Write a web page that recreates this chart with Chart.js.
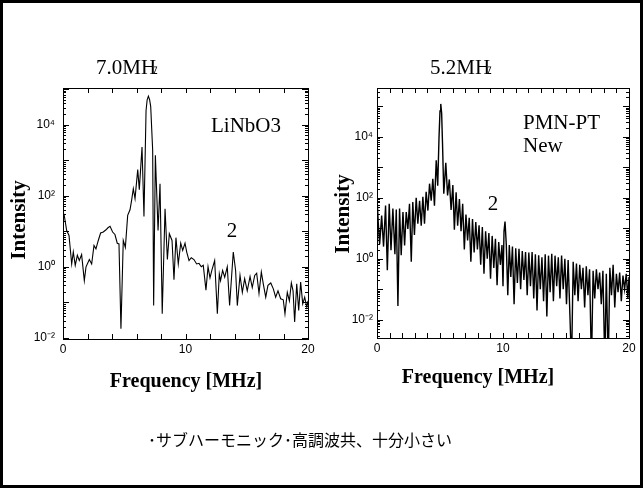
<!DOCTYPE html>
<html>
<head>
<meta charset="utf-8">
<script src="https://cdn.jsdelivr.net/npm/chart.js@4.4.1/dist/chart.umd.min.js"></script>
<style>
  html, body { margin: 0; padding: 0; background: #fff; }
  body { width: 643px; height: 488px; position: relative; overflow: hidden; }
  canvas { position: absolute; }
</style>
</head>
<body>
<canvas id="page" width="643" height="488" style="left:0;top:0"></canvas>
<canvas id="chart-linbo3" width="320" height="400" style="left:0;top:0"></canvas>
<canvas id="chart-pmnpt" width="323" height="400" style="left:320px;top:0"></canvas>

<script>
// LiNbO3, 7.0 MHz
var lnFreq = [
  0.08, 0.30, 0.49, 0.71, 0.84, 1.00, 1.17, 1.33, 1.52, 1.74,
  1.88, 2.15, 2.34, 2.53, 2.69, 2.88, 3.07, 3.29, 3.51, 3.67,
  3.84, 4.05, 4.24, 4.43, 4.57, 4.73, 4.92, 5.09, 5.28, 5.47,
  5.60, 5.74, 5.88, 6.10, 6.23, 6.45, 6.61, 6.78, 6.87, 6.97,
  7.07, 7.16, 7.32, 7.40, 7.54, 7.76, 7.92, 8.10, 8.33, 8.52,
  8.68, 8.90, 9.06, 9.22, 9.41, 9.61, 9.77, 9.96, 10.10, 10.29,
  10.47, 10.69, 10.91, 11.10, 11.29, 11.45, 11.67, 11.84, 12.00, 12.16,
  12.38, 12.60, 12.76, 12.86, 13.03, 13.20, 13.41, 13.60, 13.90, 14.09,
  14.23, 14.45, 14.64, 14.83, 15.04, 15.27, 15.45, 15.65, 15.81, 16.00,
  16.19, 16.35, 16.55, 16.73, 16.96, 17.17, 17.36, 17.55, 17.77, 17.98,
  18.12, 18.31, 18.48, 18.64, 18.78, 18.91, 19.08, 19.24, 19.40, 19.57,
  19.73, 19.90, 20.00
];
var lnInt = [
  31, 10.5, 7.6, 1.2, 2.6, 1.1, 2.1, 1.5, 2.2, 0.41,
  1.0, 1.6, 1.2, 4, 3.2, 5.5, 8.9, 9.5, 11, 12.5,
  13.7, 9.5, 8.1, 4.6, 4.4, 0.018, 5.5, 3.5, 28, 40,
  74, 158, 83, 540, 148, 2350, 26, 25000, 50000, 63000,
  50000, 32000, 1900, 0.081, 1380, 10.5, 218, 0.048, 43, 1.6,
  8.5, 5.5, 0.43, 6.6, 1.2, 4.6, 2.9, 4.6, 2.6, 1.5,
  1.8, 1.6, 1.2, 1.25, 1.0, 1.1, 0.22, 1.0, 0.49, 0.82,
  1.5, 0.048, 0.63, 0.41, 0.79, 0.51, 1.0, 0.081, 2.6, 0.79,
  0.081, 0.57, 0.19, 0.46, 0.21, 0.53, 0.26, 0.57, 0.66, 0.18,
  0.71, 0.33, 0.14, 0.3, 0.35, 0.24, 0.14, 0.21, 0.126, 0.118,
  0.048, 0.19, 0.11, 0.35, 0.21, 0.028, 0.33, 0.059, 0.37, 0.091,
  0.14, 0.073, 0.11
];

// PMN-PT New, 5.2 MHz
var pmnFreq = [
  0.00, 0.10, 0.21, 0.37, 0.52, 0.68, 0.82, 0.97, 1.11, 1.26,
  1.42, 1.53, 1.66, 1.79, 1.92, 2.06, 2.19, 2.32, 2.45, 2.58,
  2.72, 2.84, 2.97, 3.11, 3.24, 3.38, 3.51, 3.64, 3.77, 3.90,
  4.04, 4.17, 4.30, 4.43, 4.56, 4.70, 4.82, 4.92, 5.00, 5.06,
  5.13, 5.20, 5.30, 5.46, 5.60, 5.74, 5.88, 6.02, 6.14, 6.28,
  6.40, 6.54, 6.67, 6.80, 6.93, 7.06, 7.19, 7.32, 7.45, 7.58,
  7.71, 7.84, 7.97, 8.10, 8.23, 8.36, 8.49, 8.62, 8.75, 8.88,
  9.01, 9.14, 9.27, 9.40, 9.53, 9.66, 9.79, 9.92, 10.00, 10.08,
  10.16, 10.26, 10.38, 10.50, 10.62, 10.75, 10.88, 11.01, 11.14, 11.27,
  11.40, 11.53, 11.66, 11.79, 11.92, 12.05, 12.18, 12.31, 12.44, 12.57,
  12.70, 12.83, 12.96, 13.09, 13.22, 13.35, 13.48, 13.61, 13.74, 13.87,
  14.00, 14.13, 14.26, 14.39, 14.52, 14.65, 14.78, 14.91, 15.04, 15.17,
  15.44, 15.57, 15.70, 15.83, 15.96, 16.09, 16.22, 16.35, 16.48, 16.61,
  16.74, 16.87, 17.02, 17.15, 17.28, 17.41, 17.54, 17.67, 17.80, 17.93,
  18.08, 18.20, 18.35, 18.48, 18.61, 18.74, 18.87, 19.00, 19.13, 19.26,
  19.39, 19.52, 19.65, 19.78, 19.91, 20.00
];
var pmnInt = [
  110, 15, 3, 26, 2.5, 56, 0.42, 63, 1.9, 44,
  1.4, 41, 0.028, 44, 1.3, 34, 2.7, 34, 9.5, 63,
  0.8, 72, 6, 100, 14, 79, 12, 107, 14, 158,
  38, 290, 80, 420, 55, 1700, 250, 9000, 70000, 120000,
  60000, 6000, 135, 1400, 120, 400, 40, 260, 9, 150,
  12, 91, 8, 63, 2, 28, 4, 22, 0.8, 20,
  1.6, 16, 2, 12.6, 0.63, 11, 0.32, 8, 1, 7,
  0.22, 5.6, 0.5, 4.5, 0.135, 3.5, 0.63, 2.8, 0.126, 8,
  16.6, 3, 0.063, 2.8, 0.25, 2.5, 0.032, 2.2, 0.16, 2.1,
  0.1, 1.8, 0.2, 1.66, 0.063, 1.6, 0.126, 1.66, 0.05, 1.4,
  0.02, 1.3, 0.1, 1.12, 0.04, 1.4, 0.0126, 1.26, 0.08, 1.45,
  0.04, 1.26, 0.126, 1.12, 0.05, 1.26, 0.1, 1.0, 0.032, 0.9,
  0.0003, 0.8, 0.063, 0.7, 0.04, 0.63, 0.1, 0.5, 0.025, 0.56,
  0.063, 0.45, 0.0003, 0.4, 0.05, 0.45, 0.1, 0.35, 0.032, 0.4,
  0.0003, 0.32, 0.0003, 0.5, 0.063, 0.63, 0.025, 0.32, 0.08, 0.35,
  0.04, 0.28, 0.1, 0.32, 0.05, 0.25
];

// axis labels
var xTicks = [0, 10, 20];
var yTicks = [1e-2, 1, 1e2, 1e4];
var yTickLabels = ['10⁻²', '10⁰', '10²', '10⁴'];

var SERIF = '"Liberation Serif", "Times New Roman", serif';

// page frame and the note under the charts
(function () {
  var ctx = document.getElementById('page').getContext('2d');
  ctx.fillStyle = '#fff';
  ctx.fillRect(0, 0, 643, 488);
  ctx.fillStyle = '#000';
  ctx.fillRect(0, 0, 643, 3);
  ctx.fillRect(0, 485, 643, 3);
  ctx.fillRect(0, 0, 3, 488);
  ctx.fillRect(640, 0, 3, 488);
  ctx.font = '16px "Noto Sans CJK JP", sans-serif';
  ctx.textAlign = 'center';
  ctx.textBaseline = 'middle';
  ctx.fillText('･サブハーモニック･高調波共、十分小さい', 300, 440);
})();

// box, inward ticks and the text labels of one panel
function panelDecor(xStep, offX, texts) {
  return {
    id: 'panelDecor',
    afterDraw: function (chart) {
      var ctx = chart.ctx, a = chart.chartArea, x = chart.scales.x, y = chart.scales.y;
      ctx.save();
      ctx.strokeStyle = '#000';
      ctx.lineWidth = 1;
      ctx.strokeRect(Math.round(a.left) + 0.5, Math.round(a.top) + 0.5,
        Math.round(a.right - a.left), Math.round(a.bottom - a.top));
      ctx.beginPath();
      for (var v = x.min; v <= x.max + 1e-9; v += xStep) {
        var px = Math.round(x.getPixelForValue(v)) + 0.5;
        ctx.moveTo(px, a.bottom); ctx.lineTo(px, a.bottom - 5);
        ctx.moveTo(px, a.top); ctx.lineTo(px, a.top + 5);
      }
      var e0 = Math.floor(Math.log10(y.min)), e1 = Math.ceil(Math.log10(y.max));
      for (var e = e0; e <= e1; e++) {
        for (var m = 1; m <= 9; m++) {
          var val = m * Math.pow(10, e);
          if (val < y.min || val > y.max) continue;
          var py = Math.round(y.getPixelForValue(val)) + 0.5;
          var len = (m === 1) ? 6 : 3;
          ctx.moveTo(a.left, py); ctx.lineTo(a.left + len, py);
          ctx.moveTo(a.right, py); ctx.lineTo(a.right - len, py);
        }
      }
      ctx.stroke();

      ctx.fillStyle = '#000';
      texts.forEach(function (t) {
        ctx.save();
        ctx.font = (t.bold ? 'bold ' : '') + t.size + 'px ' + SERIF;
        ctx.textAlign = t.align || 'center';
        ctx.textBaseline = 'middle';
        ctx.translate(t.x - offX, t.y);
        if (t.rot) ctx.rotate(-Math.PI / 2);
        if (t.unit) {
          // "7.0MH" + narrow ｚ
          ctx.textBaseline = 'alphabetic';
          var w1 = ctx.measureText(t.text).width;
          ctx.font = '15px ' + SERIF;
          var w2 = ctx.measureText(t.unit).width * 0.6;
          var start = -(w1 - 5 + w2) / 2;
          ctx.font = t.size + 'px ' + SERIF;
          ctx.textAlign = 'left';
          ctx.fillText(t.text, start, 7);
          ctx.font = '15px ' + SERIF;
          ctx.translate(start + w1 - 5, 7);
          ctx.scale(0.6, 1);
          ctx.fillText(t.unit, 0, 0);
        } else {
          ctx.fillText(t.text, 0, 0);
        }
        ctx.restore();
      });
      ctx.restore();
    }
  };
}

function makeChart(id, freq, inten, yMin, yMax, xStep, yAxisWidth, xAxisHeight, padRight, labelPad, lineW, offX, texts) {
  var points = freq.map(function (f, i) { return { x: f, y: inten[i] }; });
  return new Chart(document.getElementById(id), {
    type: 'line',
    data: {
      datasets: [{
        data: points,
        borderColor: '#000',
        borderWidth: lineW,
        pointRadius: 0,
        tension: 0,
        fill: false
      }]
    },
    options: {
      responsive: false,
      animation: false,
      events: [],
      layout: { padding: { left: 0, top: 88, right: padRight, bottom: 0 } },
      plugins: {
        legend: { display: false },
        tooltip: { enabled: false }
      },
      scales: {
        x: {
          type: 'linear',
          min: 0,
          max: 20,
          afterBuildTicks: function (s) { s.ticks = xTicks.map(function (v) { return { value: v }; }); },
          afterFit: function (s) { s.height = xAxisHeight; },
          grid: { display: false, drawTicks: false },
          border: { display: false },
          ticks: {
            color: '#000',
            autoSkip: false,
            maxRotation: 0,
            padding: 3,
            font: { family: 'Liberation Sans', size: 12 }
          }
        },
        y: {
          type: 'logarithmic',
          min: yMin,
          max: yMax,
          afterBuildTicks: function (s) { s.ticks = yTicks.map(function (v) { return { value: v }; }); },
          afterFit: function (s) { s.width = yAxisWidth; },
          grid: { display: false, drawTicks: false },
          border: { display: false },
          ticks: {
            color: '#000',
            autoSkip: false,
            padding: labelPad,
            font: { family: 'Liberation Sans', size: 12 },
            callback: function (v, i) { return yTickLabels[i]; }
          }
        }
      }
    },
    plugins: [panelDecor(xStep, offX, texts)]
  });
}

makeChart('chart-linbo3', lnFreq, lnInt, 0.0093, 107000, 2, 63, 61, 12, 8, 1.1, 0, [
  { text: '7.0MH', unit: 'ｚ', x: 128, y: 67, size: 21 },
  { text: 'LiNbO3', x: 211, y: 126, size: 21, align: 'left' },
  { text: '2', x: 232, y: 231, size: 21 },
  { text: 'Intensity', x: 20, y: 220, size: 21, bold: true, rot: true },
  { text: 'Frequency [MHz]', x: 186, y: 382, size: 20, bold: true }
]);
makeChart('chart-pmnpt', pmnFreq, pmnInt, 0.0025, 400000, 1, 57, 62, 14, 4, 1.4, 320, [
  { text: '5.2MH', unit: 'ｚ', x: 462, y: 67, size: 21 },
  { text: 'PMN-PT', x: 523, y: 123, size: 21, align: 'left' },
  { text: 'New', x: 523, y: 146, size: 21, align: 'left' },
  { text: '2', x: 493, y: 204, size: 21 },
  { text: 'Intensity', x: 344, y: 214, size: 21, bold: true, rot: true },
  { text: 'Frequency [MHz]', x: 478, y: 378, size: 20, bold: true }
]);
</script>
</body>
</html>
